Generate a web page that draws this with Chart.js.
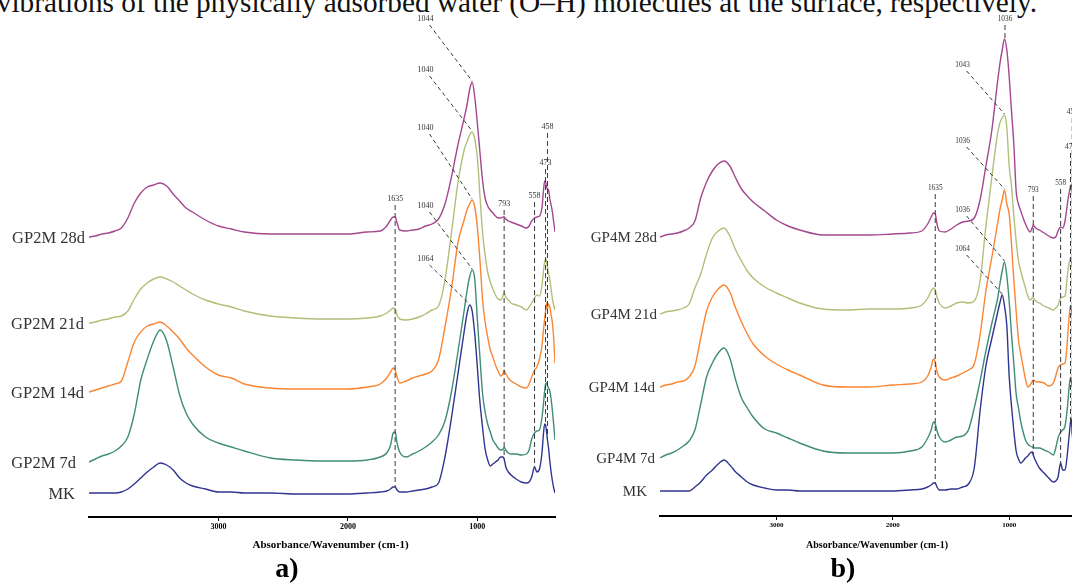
<!DOCTYPE html>
<html>
<head>
<meta charset="utf-8">
<script src="https://cdn.jsdelivr.net/npm/chart.js@4.4.1/dist/chart.umd.min.js"></script>
<style>
  html, body { margin: 0; padding: 0; background: #fff; }
  body { position: relative; width: 1072px; height: 583px; overflow: hidden; font-family: "Liberation Serif", serif; }
  #lead { position: absolute; right: 35px; top: -12px; font-size: 29.3px; line-height: 29px; white-space: nowrap; color: #111; }
  #panel-a { position: absolute; left: 0; top: 0; }
  #panel-b { position: absolute; left: 560px; top: 0; }
</style>
</head>
<body>
<div id="lead">vibrations of the physically adsorbed water (O–H) molecules at the surface, respectively.</div>
<canvas id="panel-a" width="560" height="583"></canvas>
<canvas id="panel-b" width="560" height="583"></canvas>

<script>
// ── Data (wavenumber grid, cm-1) ──────────────────────────
const WAVENUMBERS = [
  4000, 3950, 3900, 3850, 3800, 3750, 3700, 3650, 3600, 3550, 3500, 3450, 3400, 3350, 3300, 3250, 3200,
  3100, 3000, 2900, 2800, 2600, 2400, 2200, 2000, 1850,
  1750, 1700, 1670, 1650, 1635, 1620, 1600, 1550, 1500,
  1450, 1400, 1350, 1300, 1250, 1200, 1150, 1100, 1080, 1060, 1040, 1020, 1000,
  980, 960, 940, 920, 900, 880, 860, 840, 820, 800,
  793, 780, 760, 740, 700, 660, 620, 600, 580, 558,
  540, 520, 500, 490, 480, 473, 465, 458, 450, 440, 430, 420, 410, 400
];
const X_TICKS = [1000, 2000, 3000];

// stacked absorbance traces (offset units above the axis)
const GP2M_28D = [
  280, 281, 283, 284, 286, 289, 299, 314, 324, 330, 332, 334, 331, 323, 316, 309, 305,
  297, 291, 288, 285, 283, 283, 283, 283, 285,
  286, 291, 297, 300, 300, 294, 287, 286, 287,
  288, 291, 293, 298, 313, 340, 372, 400, 412, 427, 435, 420, 394,
  365, 337, 319, 311, 307, 304, 301, 299, 299, 300,
  300, 298, 296, 295, 293, 291, 289, 291, 296, 299,
  300, 301, 310, 325, 336, 335, 330, 328, 327, 318, 312, 305, 295, 285
];
const GP2M_21D = [
  194, 195, 197, 198, 200, 201, 206, 218, 228, 234, 238, 240, 238, 235, 231, 227, 223,
  217, 213, 210, 206, 201, 199, 198, 198, 199,
  201, 204, 207, 209, 208, 202, 198, 197, 198,
  200, 203, 207, 211, 237, 284, 334, 368, 375, 382, 385, 378, 360,
  322, 285, 262, 245, 235, 228, 222, 218, 217, 222,
  224, 220, 217, 214, 212, 210, 207, 210, 214, 219,
  222, 221, 232, 245, 255, 258, 256, 250, 244, 237, 228, 218, 212, 207
];
const GP2M_14D = [
  125, 127, 129, 131, 133, 136, 155, 175, 185, 191, 193, 195, 191, 185, 178, 169, 162,
  150, 142, 139, 133, 129, 128, 128, 128, 130,
  133, 139, 145, 149, 147, 140, 134, 136, 139,
  141, 143, 146, 157, 190, 228, 274, 298, 307, 313, 317, 310, 290,
  257, 218, 195, 180, 167, 160, 152, 146, 141, 144,
  147, 143, 139, 136, 133, 130, 129, 133, 140, 147,
  150, 158, 172, 186, 198, 206, 214, 208, 213, 210, 202, 194, 178, 154
];
const GP2M_7D = [
  55, 58, 61, 63, 66, 71, 80, 103, 137, 158, 176, 187, 176, 150, 122, 104, 93,
  80, 74, 70, 66, 59, 57, 56, 56, 57,
  60, 64, 72, 84, 85, 74, 65, 60, 63,
  66, 70, 75, 82, 96, 125, 165, 208, 226, 240, 247, 238, 198,
  160, 124, 105, 93, 85, 77, 73, 69, 67, 68,
  70, 67, 64, 63, 63, 62, 63, 67, 78, 84,
  86, 87, 100, 112, 126, 133, 134, 131, 129, 126, 118, 106, 92, 77
];
const MK_A = [
  24, 24, 24, 24, 24, 25, 28, 33, 39, 45, 50, 54, 52, 47, 39, 34, 31,
  28, 25, 25, 24, 24, 23, 23, 23, 24,
  25, 26, 28, 30, 30, 27, 25, 25, 26,
  27, 28, 30, 34, 60, 99, 143, 187, 203, 212, 206, 183, 150,
  115, 90, 68, 57, 51, 53, 55, 57, 60, 60,
  58, 50, 45, 42, 38, 35, 34, 35, 40, 50,
  45, 48, 65, 82, 93, 92, 85, 77, 69, 56, 45, 36, 29, 24
];

const GP4M_28D = [
  279, 281, 282, 283, 285, 288, 295, 318, 334, 345, 352, 355, 350, 338, 327, 320, 314,
  305, 296, 290, 286, 281, 281, 281, 282, 283,
  285, 292, 299, 303, 302, 292, 285, 284, 287,
  291, 294, 295, 298, 316, 350, 385, 434, 452, 466, 477, 466, 440,
  405, 372, 325, 312, 305, 298, 292, 287, 284, 289,
  291, 289, 287, 286, 283, 280, 278, 279, 285, 289,
  288, 295, 312, 320, 326, 330, 331, 325, 320, 312, 305, 298, 290, 284
];
const GP4M_21D = [
  202, 204, 205, 206, 208, 212, 228, 242, 262, 278, 285, 288, 280, 266, 255, 245, 238,
  229, 223, 218, 213, 207, 206, 207, 207, 208,
  211, 218, 225, 228, 226, 219, 213, 208, 210,
  213, 214, 213, 215, 235, 290, 338, 382, 393, 398, 401, 388, 350,
  330, 300, 275, 255, 245, 236, 228, 220, 216, 218,
  218, 216, 214, 213, 210, 208, 206, 208, 211, 218,
  219, 220, 240, 250, 255, 258, 255, 250, 246, 240, 232, 225, 218, 212
];
const GP4M_14D = [
  129, 131, 132, 134, 135, 139, 150, 178, 205, 219, 227, 231, 224, 208, 194, 182, 172,
  160, 152, 146, 141, 131, 129, 129, 131, 132,
  134, 140, 149, 157, 154, 144, 139, 136, 138,
  140, 143, 146, 152, 181, 225, 258, 292, 306, 316, 326, 312, 302,
  272, 236, 205, 176, 162, 149, 137, 129, 131, 135,
  136, 135, 134, 134, 133, 130, 133, 140, 148, 151,
  152, 153, 175, 192, 205, 210, 208, 200, 195, 188, 180, 172, 163, 155
];
const GP4M_7D = [
  58, 61, 63, 66, 70, 75, 86, 112, 139, 153, 163, 168, 158, 136, 118, 108, 99,
  87, 83, 78, 73, 65, 63, 63, 63, 65,
  69, 78, 86, 94, 92, 85, 79, 74, 76,
  79, 80, 86, 108, 135, 165, 192, 217, 232, 245, 254, 240, 215,
  182, 152, 122, 108, 94, 84, 76, 72, 70, 69,
  69, 68, 68, 68, 66, 64, 61, 68, 78, 84,
  86, 90, 108, 122, 134, 138, 135, 130, 125, 118, 110, 100, 92, 85
];
const MK_B = [
  25, 25, 25, 25, 25, 25, 29, 34, 41, 46, 52, 56, 51, 44, 39, 34, 31,
  28, 26, 26, 25, 25, 25, 25, 25, 26,
  27, 29, 31, 33, 33, 29, 26, 26, 27,
  27, 29, 32, 48, 105, 150, 177, 203, 213, 221, 210, 190, 140,
  110, 85, 65, 57, 53, 55, 58, 60, 63, 64,
  61, 57, 52, 48, 43, 38, 34, 35, 39, 53,
  46, 46, 62, 74, 86, 94, 97, 82, 74, 62, 50, 40, 32, 26
];

const NAMES_A = ["GP2M 28d", "GP2M 21d", "GP2M 14d", "GP2M 7d", "MK"];
const NAMES_B = ["GP4M 28d", "GP4M 21d", "GP4M 14d", "GP4M 7d", "MK"];
const COLORS  = ["#a3478f", "#b1bf79", "#fa8532", "#3f8c78", "#2f3590"];

// peak marks (cm-1)
const VPEAKS_A = [1635, 793, 558, 473, 458];
const DPEAKS_A = [1044, 1040, 1040, 1040, 1064];
const VPEAKS_B = [1036, 1635, 793, 558, 473, 458];
const DPEAKS_B = [1043, 1036, 1036, 1064];

// ── Helpers ───────────────────────────────────────────────
function valueAt(values, wn) {
  let best = 0;
  WAVENUMBERS.forEach((w, i) => {
    if (Math.abs(w - wn) < Math.abs(WAVENUMBERS[best] - wn)) best = i;
  });
  return values[best];
}
function peakNear(values, wn) {
  let bi = -1;
  WAVENUMBERS.forEach((w, i) => {
    if (Math.abs(w - wn) <= 25 && (bi < 0 || values[i] > values[bi])) bi = i;
  });
  return { x: WAVENUMBERS[bi], y: values[bi] };
}

// ── Labels, peak markers, titles ──────────────────────────
const decorations = {
  id: "decorations",
  afterDatasetsDraw(chart, args, o) {
    const { ctx, chartArea, scales: { x, y } } = chart;
    const series = chart.data.datasets.map(d => d.raw);
    ctx.save();

    // curve names
    ctx.fillStyle = "#333";
    ctx.font = `${o.nameSize}px "Liberation Serif"`;
    ctx.textAlign = "right";
    ctx.textBaseline = "alphabetic";
    chart.data.datasets.forEach((d, i) => {
      const y0 = y.getPixelForValue(d.raw[0]);
      ctx.fillText(d.label, chartArea.left + o.nameGap[i], y0 + o.nameSize * 0.34);
    });

    ctx.strokeStyle = "#3a3a3a";
    ctx.lineWidth = 1;
    ctx.font = `${o.markSize}px "Liberation Serif"`;
    ctx.textAlign = "center";
    ctx.textBaseline = "middle";

    // vertical marks
    ctx.setLineDash([5, 3]);
    o.vPeaks.forEach((wn, k) => {
      const px = x.getPixelForValue(wn);
      const vals = series.map(s => valueAt(s, wn));
      const ly = y.getPixelForValue(Math.max(...vals) + o.vRise[k]);
      const end = o.vTo[k] != null ? vals[o.vTo[k]] : Math.min(...vals);
      ctx.beginPath();
      ctx.moveTo(px, ly + 6);
      ctx.lineTo(px, y.getPixelForValue(end));
      ctx.stroke();
      ctx.fillText(String(wn), px, ly);
    });

    // slanted marks
    ctx.setLineDash([4, 3]);
    o.dPeaks.forEach((wn, k) => {
      const pk = peakNear(series[o.dSeries[k]], wn);
      const lx = x.getPixelForValue(o.dLabelWn);
      const ly = y.getPixelForValue(pk.y + o.dRise[k]);
      ctx.beginPath();
      ctx.moveTo(lx + 4, ly + 6);
      ctx.lineTo(x.getPixelForValue(pk.x), y.getPixelForValue(pk.y) - 1);
      ctx.stroke();
      ctx.fillText(String(wn), lx, ly);
    });

    // axis title and panel letter
    ctx.setLineDash([]);
    ctx.fillStyle = "#000";
    ctx.font = `bold ${o.titleSize}px "Liberation Serif"`;
    ctx.fillText("Absorbance/Wavenumber (cm-1)", (chartArea.left + chartArea.right) / 2 + o.titleShift, o.titleY);
    ctx.font = `bold ${o.letterSize}px "Liberation Serif"`;
    ctx.textBaseline = "alphabetic";
    ctx.fillText(o.letter, o.letterX, o.letterY);
    ctx.restore();
  }
};

// ── Panel builder ─────────────────────────────────────────
function makePanel(id, names, traces, look) {
  return new Chart(document.getElementById(id), {
    type: "line",
    data: {
      datasets: traces.map((vals, i) => ({
        label: names[i],
        raw: vals,
        data: WAVENUMBERS.map((w, k) => ({ x: w, y: vals[k] })),
        borderColor: COLORS[i],
        borderWidth: 1.4,
        pointRadius: 0,
        fill: false,
        cubicInterpolationMode: "monotone",
      }))
    },
    options: {
      responsive: false,
      animation: false,
      events: [],
      layout: { padding: look.pad },
      plugins: {
        legend: { display: false },
        tooltip: { enabled: false },
        decorations: look,
      },
      scales: {
        x: {
          type: "linear", reverse: true, min: 400, max: 4000,
          afterBuildTicks: s => { s.ticks = X_TICKS.map(v => ({ value: v })); },
          afterFit: s => { s.height = look.axisH; },
          grid: { drawOnChartArea: false, drawTicks: true, tickLength: 4, tickColor: "#000", tickWidth: 1 },
          border: { display: true, color: "#000", width: 2 },
          ticks: {
            color: "#000", padding: 1, maxRotation: 0,
            font: { family: "Liberation Serif", size: look.tickSize, weight: "bold" },
            callback: v => String(v),
          },
        },
        y: { display: false, min: 0, max: 500 },
      },
    },
    plugins: [decorations],
  });
}

makePanel("panel-a", NAMES_A, [GP2M_28D, GP2M_21D, GP2M_14D, GP2M_7D, MK_A], {
  pad: { left: 89, right: 5, top: 17, bottom: 0 }, axisH: 66,
  tickSize: 8, nameSize: 16.5, nameGap: [-4, -5, -5, -13, -14], markSize: 8,
  vPeaks: VPEAKS_A, vRise: [18, 13, 22, 19, 62], vTo: [],
  dPeaks: DPEAKS_A, dSeries: [0, 1, 2, 3, 4], dRise: [63, 62, 72, 64, 46], dLabelWn: 1400,
  titleSize: 11, titleShift: 8.5, titleY: 545,
  letter: "a)", letterSize: 28, letterX: 287, letterY: 577,
});

makePanel("panel-b", NAMES_B, [GP4M_28D, GP4M_21D, GP4M_14D, GP4M_7D, MK_B], {
  pad: { left: 100, right: 41, top: 16, bottom: 0 }, axisH: 67,
  tickSize: 7, nameSize: 15, nameGap: [-3, -3, -5, -5, -13], markSize: 7.3,
  vPeaks: VPEAKS_B, vRise: [20, 26, 35, 44, 39, 79], vTo: [0],
  dPeaks: DPEAKS_B, dSeries: [1, 2, 3, 4], dRise: [50, 49, 52, 46], dLabelWn: 1400,
  titleSize: 10, titleShift: 7.5, titleY: 545,
  letter: "b)", letterSize: 28, letterX: 283, letterY: 577,
});
</script>
</body>
</html>
